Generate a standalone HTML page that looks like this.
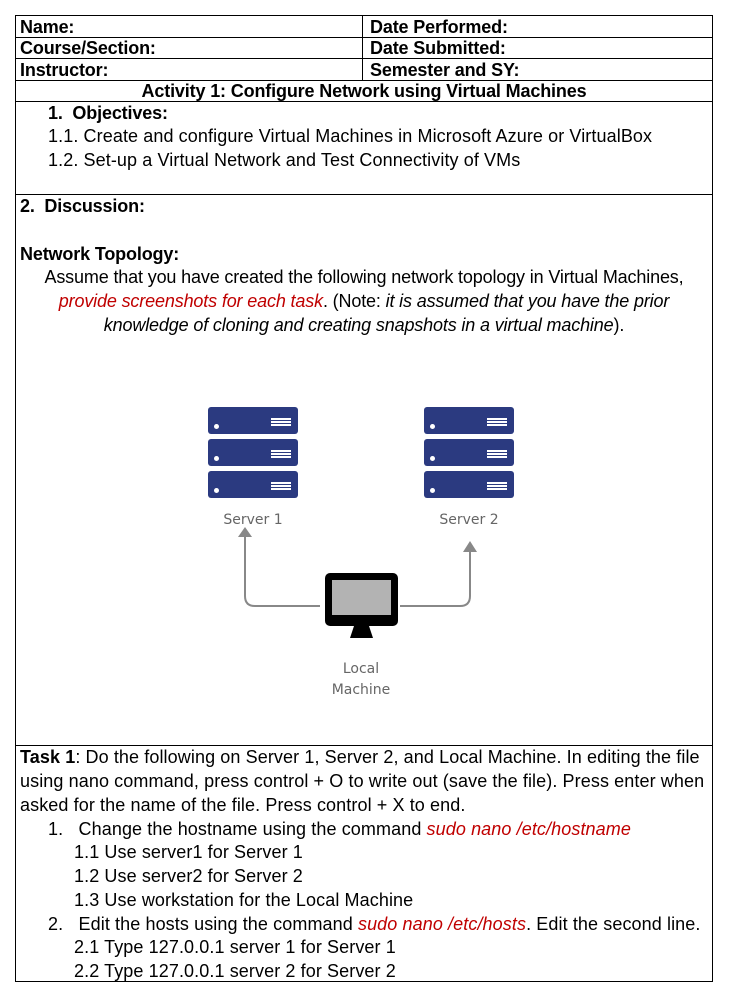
<!DOCTYPE html>
<html><head><meta charset="utf-8"><style>
body{margin:0;width:730px;height:1001px;background:#fff;position:relative;font-family:"Liberation Sans",Arial,sans-serif;color:#000;overflow:hidden}
.t{position:absolute;white-space:nowrap;font-size:18px;line-height:20px;letter-spacing:-0.15px}
.w{letter-spacing:0.1px}
.b{font-weight:bold}
.ln{position:absolute;background:#000}
.r{color:#c00000;font-style:italic}
.i{font-style:italic}
.srv{position:absolute;width:90px;height:27px;background:#2b3a80;border-radius:3px}
.srv:before{content:"";position:absolute;left:6px;top:17px;width:5px;height:5px;border-radius:50%;background:#fff}
.srv:after{content:"";position:absolute;right:7px;top:11px;width:20px;height:2px;background:#fff;box-shadow:0 3px 0 #fff,0 6px 0 #fff}
.lab{position:absolute;font-family:"DejaVu Sans",sans-serif;font-size:14px;color:#666;text-align:center}
</style></head><body>
<div class="ln" style="left:15px;top:15px;width:698px;height:1px"></div>
<div class="ln" style="left:15px;top:37px;width:698px;height:1px"></div>
<div class="ln" style="left:15px;top:58px;width:698px;height:1px"></div>
<div class="ln" style="left:15px;top:80px;width:698px;height:1px"></div>
<div class="ln" style="left:15px;top:101px;width:698px;height:1px"></div>
<div class="ln" style="left:15px;top:194px;width:698px;height:1px"></div>
<div class="ln" style="left:15px;top:745px;width:698px;height:1px"></div>
<div class="ln" style="left:15px;top:981px;width:698px;height:1px"></div>
<div class="ln" style="left:15px;top:15px;width:1px;height:967px"></div>
<div class="ln" style="left:712px;top:15px;width:1px;height:967px"></div>
<div class="ln" style="left:362px;top:15px;width:1px;height:66px"></div>

<div class="t b" style="left:20px;top:17px">Name:</div>
<div class="t b" style="left:370px;top:17px">Date Performed:</div>
<div class="t b" style="left:20px;top:38px">Course/Section:</div>
<div class="t b" style="left:370px;top:38px">Date Submitted:</div>
<div class="t b" style="left:20px;top:60px">Instructor:</div>
<div class="t b" style="left:370px;top:60px">Semester and SY:</div>
<div class="t b" style="left:15px;width:698px;text-align:center;top:81px">Activity 1: Configure Network using Virtual Machines</div>
<div class="t b" style="left:48px;top:103px">1.&nbsp; Objectives:</div>
<div class="t w" style="left:48px;top:126px">1.1. Create and configure Virtual Machines in Microsoft Azure or VirtualBox</div>
<div class="t w" style="left:48px;top:150px">1.2. Set-up a Virtual Network and Test Connectivity of VMs</div>

<div class="t b" style="left:20px;top:196px">2.&nbsp; Discussion:</div>
<div class="t b" style="left:20px;top:244px">Network Topology:</div>
<div class="t" style="left:15px;width:698px;text-align:center;top:267px">Assume that you have created the following network topology in Virtual Machines,</div>
<div class="t" style="left:15px;width:698px;text-align:center;top:291px"><span class="r">provide screenshots for each task</span>. (Note: <span class="i">it is assumed that you have the prior</span></div>
<div class="t" style="left:15px;width:698px;text-align:center;top:315px"><span class="i">knowledge of cloning and creating snapshots in a virtual machine</span>).</div>

<div class="srv" style="left:208px;top:407px"></div>
<div class="srv" style="left:208px;top:439px"></div>
<div class="srv" style="left:208px;top:471px"></div>
<div class="srv" style="left:424px;top:407px"></div>
<div class="srv" style="left:424px;top:439px"></div>
<div class="srv" style="left:424px;top:471px"></div>
<div class="lab" style="left:203px;width:100px;top:512px">Server 1</div>
<div class="lab" style="left:419px;width:100px;top:512px">Server 2</div>
<svg style="position:absolute;left:0;top:0" width="730" height="1001">
<path d="M245 536 V596 Q245 606 255 606 H320" fill="none" stroke="#888" stroke-width="2"/>
<polygon points="238,537 252,537 245,527" fill="#888"/>
<path d="M400 606 H460 Q470 606 470 596 V551" fill="none" stroke="#888" stroke-width="2"/>
<polygon points="463,552 477,552 470,541" fill="#888"/>
<rect x="325" y="573" width="73" height="53" rx="5" fill="#000"/>
<rect x="332" y="580" width="59" height="35" fill="#b3b3b3"/>
<polygon points="354,626 369,626 373,638 350,638" fill="#000"/>
</svg>
<div class="lab" style="left:311px;width:100px;top:659px;line-height:21px">Local<br>Machine</div>

<div class="t w" style="left:20px;top:747px"><b>Task 1</b>: Do the following on Server 1, Server 2, and Local Machine. In editing the file</div>
<div class="t w" style="left:20px;top:771px">using nano command, press control + O to write out (save the file). Press enter when</div>
<div class="t w" style="left:20px;top:795px">asked for the name of the file. Press control + X to end.</div>
<div class="t w" style="left:48px;top:819px">1.&nbsp;&nbsp; Change the hostname using the command <span class="r">sudo nano /etc/hostname</span></div>
<div class="t w" style="left:74px;top:842px">1.1 Use server1 for Server 1</div>
<div class="t w" style="left:74px;top:866px">1.2 Use server2 for Server 2</div>
<div class="t w" style="left:74px;top:890px">1.3 Use workstation for the Local Machine</div>
<div class="t w" style="left:48px;top:914px">2.&nbsp;&nbsp; Edit the hosts using the command <span class="r">sudo nano /etc/hosts</span>. Edit the second line.</div>
<div class="t w" style="left:74px;top:937px">2.1 Type 127.0.0.1 server 1 for Server 1</div>
<div class="t w" style="left:74px;top:961px">2.2 Type 127.0.0.1 server 2 for Server 2</div>
</body></html>
